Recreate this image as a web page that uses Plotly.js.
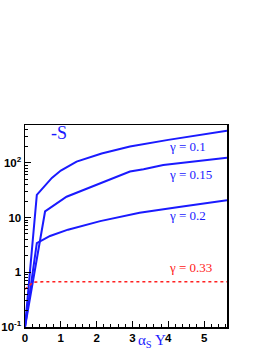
<!DOCTYPE html>
<html><head><meta charset="utf-8">
<script src="https://cdn.plot.ly/plotly-3.0.1.min.js"></script>
<style>html,body{margin:0;padding:0;background:#fff}#c{width:273px;height:353px}</style>
</head><body><div id="c"></div>
<script>
const x01 = [0, 0.33, 0.75, 1.0, 1.44, 2.14, 2.93, 4.0, 5.64];
const y01 = [0.1, 26, 53, 72, 105, 148, 198, 262, 384];
const x015 = [0, 0.56, 1.16, 2.09, 2.93, 3.31, 3.86, 5.64];
const y015 = [0.1, 12.9, 24, 42, 69, 76, 91, 124];
const x02 = [0, 0.33, 0.7, 1.2, 2.1, 3.2, 4.3, 5.64];
const y02 = [0.1, 3.4, 4.6, 6.0, 8.6, 12.2, 15.5, 20.6];
const x033 = [0, 0.23, 0.5, 5.64];
const y033 = [0.49, 0.66, 0.67, 0.67];
const labels = ['γ = 0.1', 'γ = 0.15', 'γ = 0.2', 'γ = 0.33'];
const labelY = [2.30, 1.79, 1.03, 0.09];
const yTickVals = [0.1, 1, 10, 100];
const yTickText = ['10<sup>-1</sup>', '1', '10', '10<sup>2</sup>'];

const blue = '#1a1aff', red = '#ff2020';
const traces = [
  {x: x01, y: y01, mode: 'lines', line: {color: blue, width: 2}},
  {x: x015, y: y015, mode: 'lines', line: {color: blue, width: 2}},
  {x: x02, y: y02, mode: 'lines', line: {color: blue, width: 2}},
  {x: x033, y: y033, mode: 'lines', line: {color: red, width: 1.6, dash: 'dot'}}
];
const colors = [blue, blue, blue, red];
const ann = labels.map((t, i) => ({
  x: 3.97, y: labelY[i], xref: 'x', yref: 'y', text: t, showarrow: false,
  xanchor: 'left', yanchor: 'middle',
  font: {family: 'Liberation Serif, Times New Roman, serif', size: 13, color: colors[i]}
}));
ann.push({x: 0.95, y: 2.55, xref: 'x', yref: 'y', text: '-S', showarrow: false,
  xanchor: 'center', yanchor: 'middle',
  font: {family: 'Liberation Serif, Times New Roman, serif', size: 18, color: blue}});
ann.push({x: (152 - 25) / 202, y: -0.125, xref: 'paper', yref: 'paper',
  text: 'α<sub>S</sub> Y', showarrow: false, xanchor: 'center', yanchor: 'bottom',
  font: {family: 'Liberation Serif, Times New Roman, serif', size: 15, color: blue}});

const layout = {
  width: 273, height: 353,
  margin: {l: 25, r: 46, t: 125, b: 26},
  showlegend: false,
  paper_bgcolor: '#fff', plot_bgcolor: '#fff',
  xaxis: {
    range: [0, 5.64], showgrid: false, zeroline: false,
    showline: true, linecolor: '#000', linewidth: 1.5, mirror: true,
    ticks: 'inside', ticklen: 6, tickcolor: '#000', dtick: 1, tick0: 0,
    minor: {dtick: 0.2, ticklen: 3, tickcolor: '#000', ticks: 'inside'},
    tickfont: {family: 'Liberation Sans, Arial, sans-serif', size: 11.5, color: '#000', weight: 'bold'}
  },
  yaxis: {
    type: 'log', range: [-1, 2.69], showgrid: false, zeroline: false,
    showline: true, linecolor: '#000', linewidth: 1.5, mirror: true,
    ticks: 'inside', ticklen: 6, tickcolor: '#000',
    tickvals: yTickVals, ticktext: yTickText,
    minor: {tickvals: [0.2,0.3,0.4,0.5,0.6,0.7,0.8,0.9,2,3,4,5,6,7,8,9,20,30,40,50,60,70,80,90,200,300,400], ticklen: 3, tickcolor: '#000', ticks: 'inside'},
    tickfont: {family: 'Liberation Sans, Arial, sans-serif', size: 11.5, color: '#000', weight: 'bold'}
  },
  annotations: ann
};
Plotly.newPlot('c', traces, layout, {displayModeBar: false, staticPlot: true});
</script></body></html>
